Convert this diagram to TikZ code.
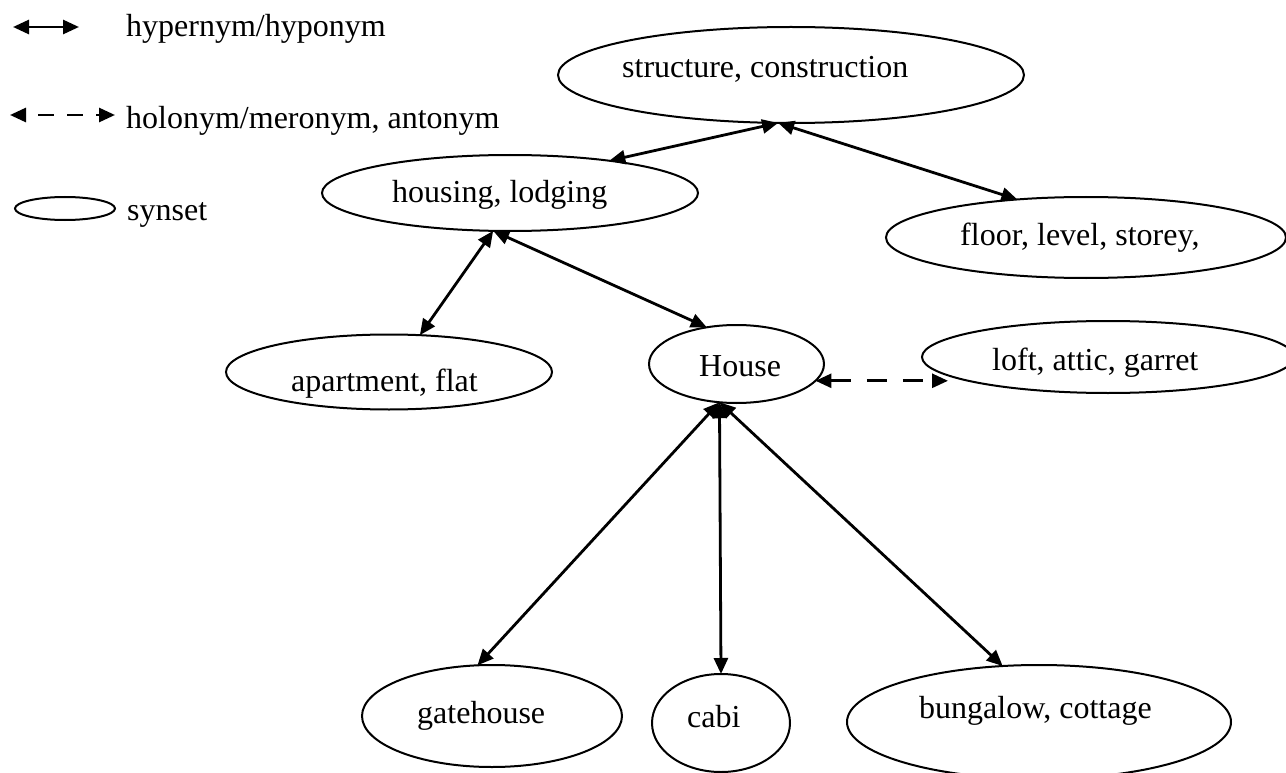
\documentclass[tikz,border=0pt]{standalone}
\usepackage{fontspec}
\setmainfont{Liberation Serif}
\usetikzlibrary{shapes.geometric,arrows.meta,calc}
\begin{document}
\begin{tikzpicture}[x=1pt,y=-1pt,
  syn/.style={draw,ellipse,line width=2pt,inner sep=0pt,outer sep=0pt},
  lbl/.style={anchor=base west,inner sep=0pt,font=\fontsize{32}{38}\selectfont},
  hyp/.style={line width=2.8pt,{Triangle[length=16pt,width=14pt]}-{Triangle[length=16pt,width=14pt]}},
  mer/.style={hyp,dash pattern=on 20pt off 16pt}]
\useasboundingbox (0,0) rectangle (1286,773);
\clip (0,0) rectangle (1286,773);

% legend
\coordinate (l1a) at (13,27);
\coordinate (l1b) at (79,27);
\draw[hyp] (l1a) -- (l1b);
\node[lbl] (leg1) at (126,37) {hypernym/hyponym};
\coordinate (l2a) at (10,115);
\coordinate (l2b) at (115,115);
\draw[hyp,dash pattern=on 16pt off 13pt,dash phase=16pt] (l2a) -- (l2b);
\node[lbl] (leg2) at (126,129) {holonym/meronym, antonym};
\node[syn,minimum width=100pt,minimum height=23pt] (legE) at (65,208.5) {};
\node[lbl] (leg3) at (127,221) {synset};

% synsets
\node[syn,minimum width=466pt,minimum height=96pt] (struct) at (791,75) {};
\node[lbl] (struct-t) at (622,78) {structure, construction};
\node[syn,minimum width=376pt,minimum height=76pt] (housing) at (510,193) {};
\node[lbl] (housing-t) at (392,203) {housing, lodging};
\node[syn,minimum width=400pt,minimum height=81pt] (floor) at (1086,237.5) {};
\node[lbl] (floor-t) at (960,245) {floor, level, storey,};
\node[syn,minimum width=326pt,minimum height=75pt] (apart) at (389,372) {};
\node[lbl] (apart-t) at (291,391) {apartment, flat};
\node[syn,minimum width=175pt,minimum height=78pt] (house) at (736.5,364) {};
\node[lbl] (house-t) at (699,376) {House};
\node[syn,minimum width=372pt,minimum height=72pt] (loft) at (1108,357) {};
\node[lbl] (loft-t) at (992,370) {loft, attic, garret};
\node[syn,minimum width=260pt,minimum height=102pt] (gate) at (492,716) {};
\node[lbl] (gate-t) at (417,723) {gatehouse};
\node[syn,minimum width=138pt,minimum height=98pt] (cabin) at (721,723) {};
\node[lbl] (cabin-t) at (687,727) {cabi};
\node[syn,minimum width=384pt,minimum height=114pt] (bung) at (1039,722) {};
\node[lbl] (bung-t) at (919,718) {bungalow, cottage};

% relations
\draw[hyp] (struct.255) -- (housing.18);
\draw[hyp] (struct.255) -- (floor.151);
\draw[hyp] (housing.246) -- (apart.50);
\draw[hyp] (housing.246) -- (house.129);
\draw[mer] (house.348) -- ($(house.348 -| loft.west)+(26,0)$);
\draw[hyp] (house.246) -- (gate.106);
\draw[hyp] (house.246) -- (cabin.north);
\draw[hyp] (house.246) -- (bung.123);
\end{tikzpicture}
\end{document}
